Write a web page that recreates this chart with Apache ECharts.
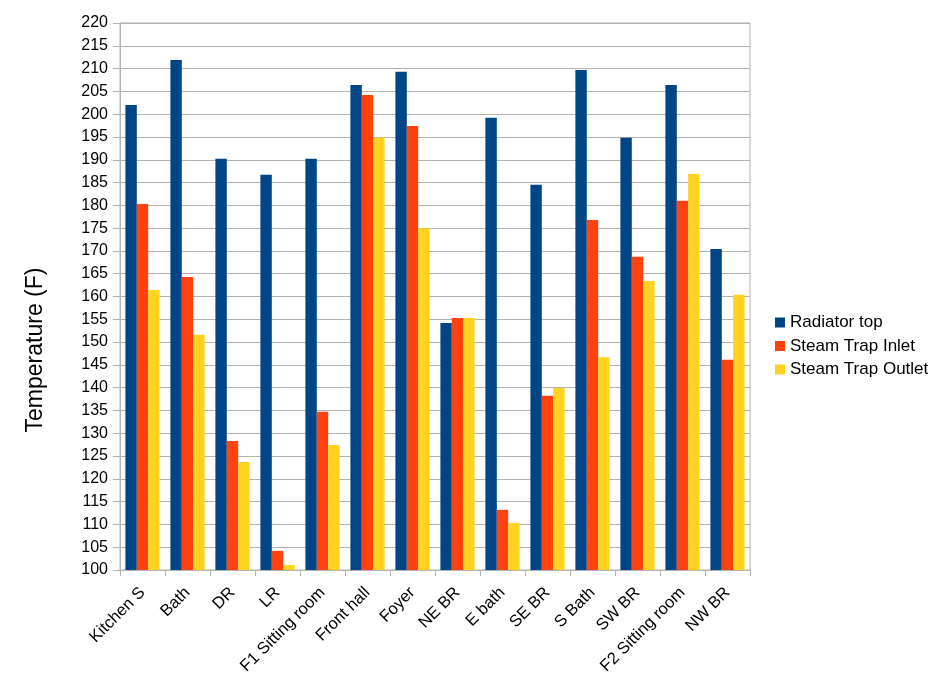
<!DOCTYPE html>
<html>
<head>
<meta charset="utf-8">
<script src="https://cdn.jsdelivr.net/npm/echarts@6/dist/echarts.min.js"></script>
<style>html,body{margin:0;padding:0;background:#fff}#c{width:945px;height:692px}</style>
</head>
<body>
<div id="c"></div>
<script>
const categories = ["Kitchen S","Bath","DR","LR","F1 Sitting room","Front hall","Foyer","NE BR","E bath","SE BR","S Bath","SW BR","F2 Sitting room","NW BR"];
const radiatorTop = [202.0, 211.9, 190.2, 186.7, 190.2, 206.4, 209.3, 154.2, 199.2, 184.5, 209.7, 194.8, 206.4, 170.4];
const steamTrapInlet = [180.3, 164.3, 128.3, 104.2, 134.7, 204.2, 197.4, 155.3, 113.2, 138.2, 176.8, 168.7, 181.0, 146.1];
const steamTrapOutlet = [161.4, 151.6, 123.7, 101.1, 127.4, 194.8, 175.0, 155.3, 110.3, 139.9, 146.7, 163.4, 186.9, 160.4];
const seriesNames = ["Radiator top","Steam Trap Inlet","Steam Trap Outlet"];
const yTitle = "Temperature (F)";

const chart = echarts.init(document.getElementById('c'), null, {renderer:'canvas'});
const font = '"Liberation Sans", Arial, sans-serif';
chart.setOption({
  animation:false,
  textStyle:{fontFamily:font,color:'#000'},
  color:['#004586','#ff420e','#ffd320'],
  grid:{left:120,right:195,top:23,bottom:122,show:true,borderColor:'#b3b3b3',borderWidth:1},
  legend:{orient:'vertical',left:770,top:309,itemWidth:10,itemHeight:10,itemGap:6.5,icon:'rect',
    textStyle:{fontSize:17,color:'#000',fontFamily:font},data:seriesNames},
  graphic:[{type:'text',x:36,y:350,rotation:Math.PI/2,
    style:{text:yTitle,fontSize:23,fontFamily:font,fill:'#000',textAlign:'center',textVerticalAlign:'middle'}}],
  xAxis:{type:'category',data:categories,
    axisLine:{lineStyle:{color:'#b3b3b3'}},
    axisTick:{show:true,length:6,lineStyle:{color:'#b3b3b3'}},
    axisLabel:{rotate:45,fontSize:16.5,color:'#000',margin:20,interval:0,fontFamily:font}},
  yAxis:{type:'value',min:100,max:220,interval:5,
    axisLine:{show:true,lineStyle:{color:'#b3b3b3'}},
    axisTick:{show:true,inside:false,length:7,lineStyle:{color:'#b3b3b3'}},
    axisLabel:{fontSize:16,color:'#000',margin:12,fontFamily:font},
    splitLine:{lineStyle:{color:'#b3b3b3'}}},
  series:[
    {name:seriesNames[0],type:'bar',data:radiatorTop,barGap:'0%',barCategoryGap:'24%'},
    {name:seriesNames[1],type:'bar',data:steamTrapInlet,barGap:'0%',barCategoryGap:'24%'},
    {name:seriesNames[2],type:'bar',data:steamTrapOutlet,barGap:'0%',barCategoryGap:'24%'}
  ]
});
</script>
</body>
</html>
